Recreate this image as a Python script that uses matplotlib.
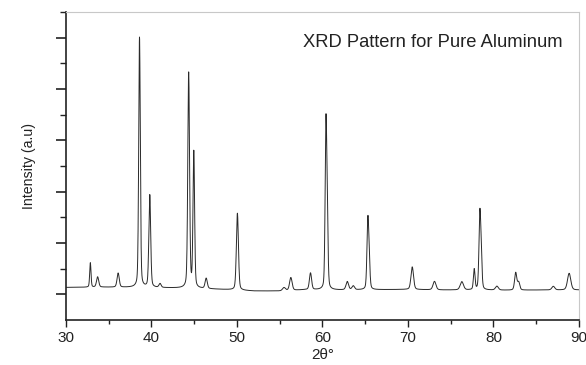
import numpy as np
import matplotlib
matplotlib.use("Agg")
import matplotlib.pyplot as plt
from matplotlib.ticker import MultipleLocator, FixedLocator

plt.rcParams['font.family'] = ['Liberation Sans', 'DejaVu Sans']

# Peak list (2theta in degrees, height above background, FWHM)
peak_pos = [32.85, 33.7, 36.1, 38.6, 39.8, 41.0, 44.35, 44.95, 46.4, 50.05,
            55.5, 56.3, 58.6, 60.4, 60.55, 62.9, 63.6, 65.3, 65.45, 70.5,
            73.1, 76.3, 77.75, 78.4, 78.55, 80.4, 82.6, 82.95, 87.0, 88.85]
peak_height = [0.95, 0.4, 0.55, 9.75, 3.6, 0.15, 8.4, 5.3, 0.4, 3.0,
               0.12, 0.5, 0.65, 6.0, 2.6, 0.32, 0.15, 2.5, 1.0, 0.88,
               0.33, 0.32, 0.8, 2.7, 1.2, 0.15, 0.68, 0.3, 0.14, 0.65]
peak_fwhm = [0.18, 0.3, 0.3, 0.22, 0.25, 0.3, 0.24, 0.22, 0.3, 0.28,
             0.4, 0.35, 0.3, 0.22, 0.22, 0.35, 0.35, 0.24, 0.24, 0.35,
             0.4, 0.45, 0.22, 0.24, 0.24, 0.4, 0.3, 0.3, 0.4, 0.45]

# Background level read at several angles
bg_angle = [30, 34, 38, 42, 46, 49, 52, 55, 58, 62, 66, 70, 74, 78, 82, 86, 90]
bg_level = [1.27, 1.28, 1.27, 1.25, 1.22, 1.18, 1.13, 1.13, 1.18, 1.17, 1.18,
            1.19, 1.17, 1.17, 1.16, 1.17, 1.17]

x_ticks = [30, 40, 50, 60, 70, 80, 90]

two_theta = np.linspace(30, 90, 4000)
intensity = np.interp(two_theta, bg_angle, bg_level)
eta = 0.3
for p, h, w in zip(peak_pos, peak_height, peak_fwhm):
    g = np.exp(-4 * np.log(2) * ((two_theta - p) / w) ** 2)
    l = 1.0 / (1.0 + ((two_theta - p) / (w / 2)) ** 2)
    intensity = intensity + h * ((1 - eta) * g + eta * l)

fig = plt.figure(figsize=(5.86, 3.65), dpi=100)
ax = fig.add_axes([0.1126, 0.1233, 0.8754, 0.8437])
ax.plot(two_theta, intensity, color='#2a2a2a', lw=0.7)

ax.set_xlim(30, 90)
ax.set_ylim(0, 12)
ax.xaxis.set_major_locator(FixedLocator(x_ticks))
ax.xaxis.set_minor_locator(MultipleLocator(5))
ax.yaxis.set_major_locator(FixedLocator([1, 3, 5, 7, 9, 11]))
ax.yaxis.set_minor_locator(FixedLocator([2, 4, 6, 8, 10, 12]))
ax.set_yticklabels([])
ax.tick_params(axis='x', which='major', direction='out', length=5, width=1.0,
               labelsize=11, colors='#222222', pad=3)
ax.tick_params(axis='x', which='minor', direction='out', length=3, width=1.0,
               colors='#222222')
ax.tick_params(axis='y', which='major', direction='out', length=7, width=1.2,
               colors='#222222')
ax.tick_params(axis='y', which='minor', direction='out', length=4, width=1.0,
               colors='#222222')

for s in ['left', 'bottom']:
    ax.spines[s].set_color('#222222')
    ax.spines[s].set_linewidth(1.2)
for s in ['top', 'right']:
    ax.spines[s].set_color('#c8c8c8')
    ax.spines[s].set_linewidth(0.8)

ax.set_xlabel('2θ°', fontsize=11, color='#222222', labelpad=2)
ax.set_ylabel('Intensity (a.u)', fontsize=10.2, color='#222222', labelpad=11)
ax.text(0.715, 0.9, 'XRD Pattern for Pure Aluminum', transform=ax.transAxes,
        ha='center', va='center', fontsize=13.2, color='#222222')

fig.savefig('out.png', dpi=100)
